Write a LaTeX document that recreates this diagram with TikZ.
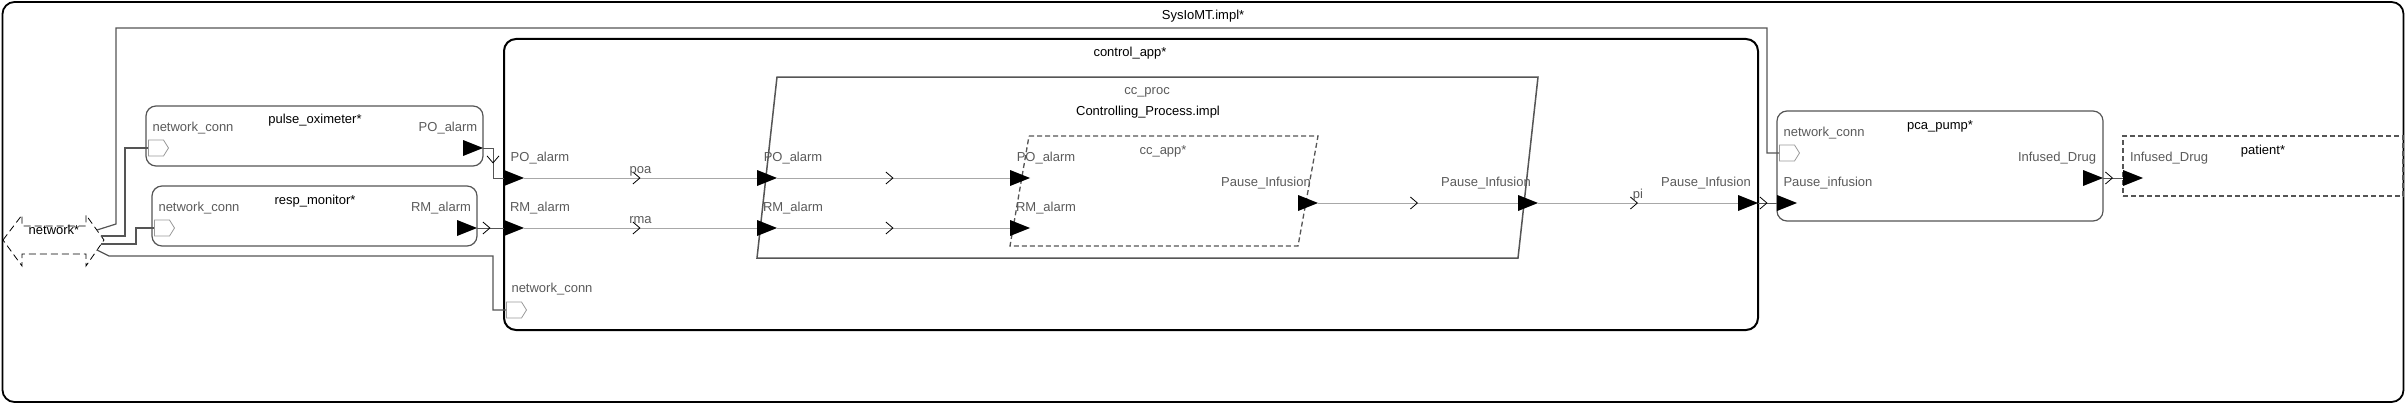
\documentclass[tikz,border=0pt]{standalone}
\usepackage{fontspec}
\setmainfont{Liberation Sans}
\usetikzlibrary{arrows.meta,decorations.markings,shapes.symbols}
\definecolor{portgray}{HTML}{5A5A5A}
\definecolor{linegray}{HTML}{A8A8A8}
\definecolor{boxgray}{HTML}{555555}
\definecolor{featgray}{HTML}{9A9A9A}

\begin{document}
\begin{tikzpicture}[x=1pt,y=-1pt,
    every node/.style={font=\fontsize{13}{15}\selectfont, text height=10.5pt, text depth=2.5pt},
    lbl/.style={text=portgray, inner sep=2pt},
    ttl/.style={text=black, inner sep=2pt},
    comp/.style={draw=boxgray, line width=1.2pt, rounded corners=10pt, inner sep=0pt},
    outport/.style={inner sep=0pt, minimum width=20pt, minimum height=16pt,
      path picture={\fill[black] (path picture bounding box.south west)
        -- (path picture bounding box.east) -- (path picture bounding box.north west) -- cycle;}},
    feat/.style={signal, signal to=east, signal pointer angle=116, draw=featgray,
      line width=0.8pt, inner sep=0pt, minimum width=20pt, minimum height=16pt},
    conn/.style={draw=linegray, line width=1pt, postaction={decorate},
      decoration={markings, mark=at position 0.5 with
        {\arrow[black, line width=0.8pt]{Straight Barb[length=7pt, width=12pt]}}}},
    extconn/.style={conn, draw=boxgray},
    netline/.style={draw=boxgray, line width=1.2pt}]

  \useasboundingbox (0,0) rectangle (2406,404);
  \node[draw=black, line width=1.8pt, rounded corners=12pt, inner sep=0pt,
    minimum width=2401pt, minimum height=400pt] (sys) at (1203,202) {};
  \node[ttl] (sys-t) at (1203,16) {SysIoMT.impl*};

  \draw[black, line width=0.8pt, dash pattern=on 7pt off 4pt]
    (3,240) -- (22,215) -- (22,226) -- (86,226) -- (86,215) -- (104,240)
    -- (86,266) -- (86,254) -- (22,254) -- (22,266) -- cycle;
  \node[ttl] (net) at (54,230) {network*};
  \coordinate (net-a) at (97,230);
  \coordinate (net-b) at (101,236);
  \coordinate (net-c) at (101,244);
  \coordinate (net-d) at (97,250);

  \node[comp, minimum width=337pt, minimum height=60pt] (po) at (314.5,136) {};
  \node[ttl] (po-t) at (315,119) {pulse\_oximeter*};
  \node[lbl] (po-l1) at (193,127) {network\_conn};
  \node[lbl] (po-l2) at (448,127) {PO\_alarm};

  \node[comp, minimum width=325pt, minimum height=60pt] (rm) at (314.5,216) {};
  \node[ttl] (rm-t) at (315,200) {resp\_monitor*};
  \node[lbl] (rm-l1) at (199,207) {network\_conn};
  \node[lbl] (rm-l2) at (441,207) {RM\_alarm};

  \node[draw=black, line width=2pt, rounded corners=12pt, inner sep=0pt,
    minimum width=1254pt, minimum height=291pt] (ca) at (1131,184.5) {};
  \node[ttl] (ca-t) at (1130,53) {control\_app*};
  \node[lbl] (ca-l1) at (540,157) {PO\_alarm};
  \node[lbl] (ca-l2) at (540,207) {RM\_alarm};
  \node[lbl] (ca-l3) at (552,288) {network\_conn};
  \node[lbl] (ca-l4) at (1706,182) {Pause\_Infusion};

  \draw[boxgray, line width=1.5pt] (777,77) -- (1538,77) -- (1518,258) -- (757,258) -- cycle;
  \node[lbl] (cp-t) at (1147,91) {cc\_proc};
  \node[ttl] (cp-t2) at (1148,111) {Controlling\_Process.impl};
  \node[lbl] (cp-l1) at (793,157) {PO\_alarm};
  \node[lbl] (cp-l2) at (793,207) {RM\_alarm};
  \node[lbl] (cp-l3) at (1486,182) {Pause\_Infusion};

  \draw[boxgray, line width=1.3pt, dash pattern=on 5pt off 3pt]
    (1029,136) -- (1318,136) -- (1298,246) -- (1010,246) -- cycle;
  \node[lbl] (cap-t) at (1163,150) {cc\_app*};
  \node[lbl] (cap-l1) at (1046,157) {PO\_alarm};
  \node[lbl] (cap-l2) at (1046,207) {RM\_alarm};
  \node[lbl] (cap-l3) at (1266,182) {Pause\_Infusion};

  \node[comp, minimum width=326pt, minimum height=110pt] (pca) at (1940,166) {};
  \node[ttl] (pca-t) at (1940,125) {pca\_pump*};
  \node[lbl] (pca-l1) at (1824,132) {network\_conn};
  \node[lbl] (pca-l2) at (1828,182) {Pause\_infusion};
  \node[lbl] (pca-l3) at (2057,157) {Infused\_Drug};

  \node[draw=boxgray, line width=1.3pt, dash pattern=on 5pt off 3pt, inner sep=0pt,
    minimum width=280pt, minimum height=60pt] (pat) at (2263,166) {};
  \node[ttl] (pat-t) at (2263,150) {patient*};
  \node[lbl] (pat-l1) at (2169,157) {Infused\_Drug};

  \node[feat] (po-nc) at (156,148) {};
  \node[feat] (rm-nc) at (162,228) {};
  \node[feat] (ca-nc) at (514,310) {};
  \node[feat] (pca-nc) at (1787,153) {};

  \draw[netline] (net-a) -- (116,224) |- (1767,28) |- (pca-nc.west);
  \draw[netline] (net-b) -- (125,236) |- (po-nc.west);
  \draw[netline] (net-c) -- (136,244) |- (rm-nc.west);
  \draw[netline] (net-d) -- (109,256) -- (493,256) |- (ca-nc.west);

  \node[outport] (po-out) at (473,148) {};
  \node[outport] (rm-out) at (467,228) {};
  \node[outport] (ca-po) at (514,178) {};
  \node[outport] (ca-rm) at (514,228) {};
  \node[outport] (cp-po) at (767,178) {};
  \node[outport] (cp-rm) at (767,228) {};
  \node[outport] (cap-po) at (1020,178) {};
  \node[outport] (cap-rm) at (1020,228) {};
  \node[outport] (cap-pi) at (1308,203) {};
  \node[outport] (cp-pi) at (1528,203) {};
  \node[outport] (ca-pi) at (1748,203) {};
  \node[outport] (pca-pi) at (1787,203) {};
  \node[outport] (pca-drug) at (2093,178) {};
  \node[outport] (pat-drug) at (2133,178) {};

  \path[extconn] (po-out.east) -- (493,148) |- (ca-po.west);
  \path[extconn] (rm-out.east) -- (ca-rm.west);
  \path[conn] (ca-po.east) -- node[lbl, above] (poa) {poa} (cp-po.west);
  \path[conn] (ca-rm.east) -- node[lbl, above] (rma) {rma} (cp-rm.west);
  \path[conn] (cp-po.east) -- (cap-po.west);
  \path[conn] (cp-rm.east) -- (cap-rm.west);
  \path[conn] (cap-pi.east) -- (cp-pi.west);
  \path[conn] (cp-pi.east) -- node[lbl, above] (pi) {pi} (ca-pi.west);
  \path[extconn] (ca-pi.east) -- (pca-pi.west);
  \path[extconn] (pca-drug.east) -- (pat-drug.west);
\end{tikzpicture}
\end{document}
